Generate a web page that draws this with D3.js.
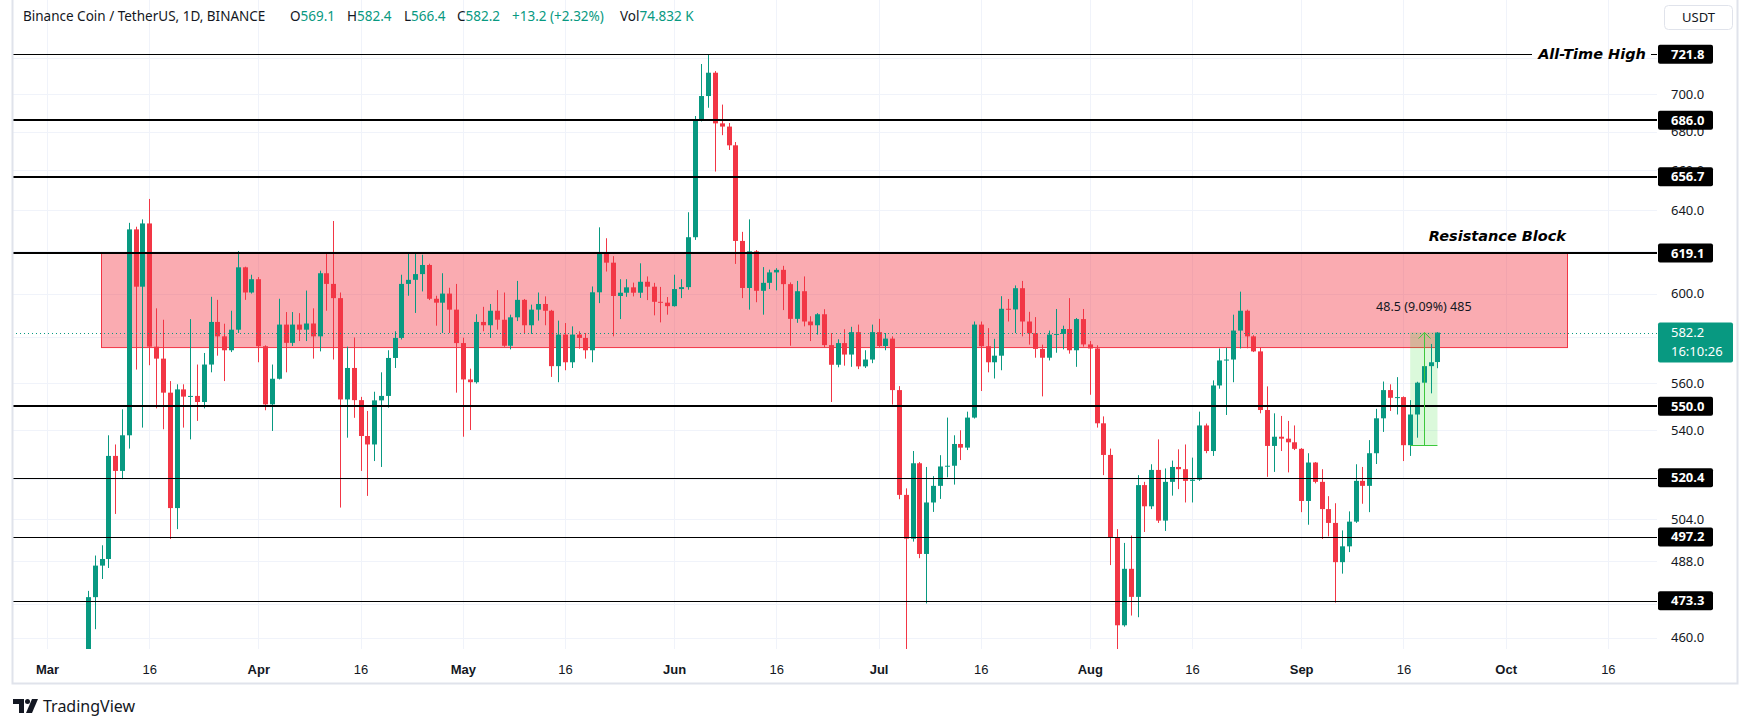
<!DOCTYPE html>
<html><head><meta charset="utf-8">
<script src="https://cdn.jsdelivr.net/npm/d3@7"></script>
<style>
html,body{margin:0;padding:0;background:#fff;}
svg{display:block;font-family:"Noto Sans","Open Sans",sans-serif;}
</style></head><body>
<svg id="chart" width="1754" height="727"></svg>
<script>
// ---------------- DATA ----------------
const startDate = "2024-03-07"; // first visible daily candle, consecutive days follow
const openVals = [
452,474.6,486.3,488.8,529.3,523.2,537.8,630.5,603.2,633.4,575.9,570.6,555.8,508.4,557.2,554.1,554.4,551.8,568.0,587.0,580.5,574.3,583.5,612.3,600.5,
606.7,576.1,550.8,561.8,585.8,577.6,585.8,583.5,586.3,580.5,609.5,604.5,597.9,552.9,566.5,552.6,537.5,534.0,552.5,554.4,570.9,579.8,604.5,606.4,609.1,613.4,597.6,595.8,600.0,592.6,
577.5,561.5,560.3,587.0,585.5,592.1,588.0,576.3,589.1,597.1,585.5,592.6,595.2,592.1,567.3,581.3,569.0,581.3,579.8,574.3,600.6,619.0,614.5,598.9,600.4,602.9,600.4,605.5,603.2,596.2,595.8,
594.2,602.1,603.0,626.7,686.1,698.9,711.6,684.3,682.6,672.8,624.9,602.6,619.9,601.3,605.0,609.9,611.1,604.4,588.4,601.1,587.2,585.5,590.5,576.6,567.9,577.5,572.4,582.4,567.2,570.2,
582.4,576.2,579.5,556.9,513.6,496.5,526.3,490.7,510.6,517.2,525.0,525.3,534.2,532.7,545.2,585.8,576.1,569.0,571.9,593.0,592.7,602.5,587.2,581.9,574.9,571.0,581.3,581.6,583.8,574.3,588.3,
576.9,575.1,542.8,529.7,496.8,464.4,485.1,474.7,517.5,509.1,523.6,503.5,518.8,524.8,523.9,519.2,519.7,541.9,531.3,558.9,569.8,570.2,583.1,592.1,580.5,573.8,548.4,533.4,537.2,536.4,534.9,
532.2,511.2,526.6,518.8,508.0,502.6,487.6,493.6,503.1,519.2,517.2,530.4,544.9,556.9,553.6,553.9,533.7,546.5,560.1,567.3,569.1];
const highVals = [
476.9,490.1,494.0,537.8,534.0,548.7,633.7,631.8,635.4,645.5,593.2,588.0,560.8,559.4,559.4,588.3,568.0,573.1,598.5,597.1,586.2,592.1,620.0,612.6,608.8,
607.7,576.5,568.0,597.6,591.5,591.5,591.0,601.4,593.2,610.7,618.7,634.6,600.5,575.9,580.0,554.0,548.0,556.2,564.6,574.3,582.8,608.8,619.3,619.0,618.3,614.0,599.0,609.5,602.7,604.5,
579.9,566.2,590.5,593.9,595.2,601.6,600.5,590.3,605.9,597.5,594.9,600.5,598.7,592.5,587.6,586.5,585.0,582.8,582.0,603.3,631.5,626.2,617.6,606.7,606.7,605.1,614.2,608.0,605.0,603.1,598.4,
608.8,606.7,638.9,688.2,716.4,721.8,712.5,694.3,684.5,674.5,629.3,635.4,620.5,612.4,611.2,611.9,613.0,605.2,605.9,608.0,589.6,591.0,592.8,582.0,579.2,583.7,584.8,585.8,574.3,585.8,
588.4,582.0,580.5,558.6,516.2,531.3,526.8,524.8,521.1,529.6,545.2,537.8,539.9,547.7,587.2,587.2,584.2,579.4,598.8,597.5,603.8,605.9,591.6,589.2,576.8,583.1,592.9,585.3,597.9,588.8,592.9,
578.4,576.5,545.7,532.3,500.2,494.9,497.7,521.5,518.8,525.9,536.1,524.2,527.4,532.0,534.0,528.6,547.7,542.7,561.1,575.1,575.4,590.3,600.9,592.6,581.0,575.4,558.5,547.0,545.9,543.8,541.9,
532.5,530.4,526.8,523.9,513.1,510.3,499.7,507.1,525.9,524.8,535.8,548.9,560.6,559.4,562.5,554.2,552.6,560.5,575.8,577.1,582.4];
const lowVals = [
447,463.0,481.3,485.4,506.1,519.9,532.3,565.8,541.0,567.7,549.1,540.3,496.4,500.2,541.0,536.1,543.8,549.1,564.6,571.9,560.8,573.5,582.0,597.1,600.0,
569.0,548.3,539.6,561.5,564.6,576.2,578.4,578.4,570.6,573.8,592.1,570.2,508.6,536.8,545.1,523.2,513.2,527.2,524.8,549.4,566.5,579.1,599.0,591.1,601.0,597.0,585.3,582.0,582.0,555.8,
537.2,540.0,559.7,582.8,579.8,583.5,575.8,574.7,587.4,581.9,581.6,587.6,585.5,562.6,560.3,565.5,566.5,575.0,570.6,569.0,595.6,610.3,580.5,588.3,598.5,598.7,598.0,597.0,590.0,586.8,590.3,
594.0,597.9,601.8,625.4,685.3,692.6,659.3,678.1,670.4,613.9,597.9,592.6,596.0,590.3,602.1,601.5,592.4,576.3,586.6,585.0,578.4,581.3,575.5,551.8,566.8,567.5,567.0,566.0,566.5,568.6,
575.5,574.3,550.7,511.9,452.0,495.4,489.1,472.3,506.9,512.0,520.6,517.7,527.6,531.7,544.8,556.5,564.6,561.9,565.5,587.2,582.0,580.5,576.8,571.0,554.2,569.8,573.2,574.7,572.8,567.0,575.9,
554.9,541.0,521.5,486.5,452.0,463.9,467.9,467.3,499.1,508.0,502.6,499.5,513.3,515.9,510.6,510.6,519.2,530.4,529.3,557.5,546.3,560.3,575.1,575.2,573.5,547.0,520.8,522.8,531.3,522.6,531.7,
506.8,501.9,518.2,496.4,497.4,472.6,483.3,491.4,502.6,510.1,506.8,526.0,539.2,548.0,546.5,527.2,529.3,536.8,555.5,555.5,566.4];
const closeVals = [
474.6,486.3,488.8,529.3,523.2,537.8,630.5,603.2,633.4,575.9,570.6,555.8,508.4,557.2,554.1,554.4,551.8,568.0,587.0,580.5,574.3,583.5,612.3,600.5,606.7,
576.1,550.8,561.8,585.8,577.6,585.8,583.5,586.3,580.5,609.5,604.5,597.9,552.9,566.5,552.6,537.5,534.0,552.5,554.4,570.9,579.8,604.5,606.4,609.1,613.4,597.6,595.8,600.0,592.6,577.5,
561.5,560.3,587.0,585.5,592.1,588.0,576.3,589.1,597.1,585.5,592.6,595.2,592.1,567.3,581.3,569.0,581.3,579.8,574.3,600.6,619.0,614.5,598.9,600.4,602.9,600.4,605.5,603.2,596.2,595.8,594.2,
602.1,603.0,626.7,686.1,698.9,711.6,684.3,682.6,672.8,624.9,602.6,619.9,601.3,605.0,609.9,611.1,604.4,588.4,601.1,587.2,585.5,590.5,576.6,567.9,577.5,572.4,582.4,567.2,570.2,582.4,
576.2,579.5,556.9,513.6,496.5,526.3,490.7,510.6,517.2,525.0,525.3,534.2,532.7,545.2,585.8,576.1,569.0,571.9,593.0,592.7,602.5,587.2,581.9,574.9,571.0,581.3,581.6,583.8,574.3,588.3,576.9,
575.1,542.8,529.7,496.8,464.4,485.1,474.7,517.5,509.1,523.6,503.5,518.8,524.8,523.9,519.2,519.7,541.9,531.3,558.9,569.8,570.2,583.1,592.1,580.5,573.8,548.4,533.4,537.2,536.4,534.9,532.2,
511.2,526.6,518.8,508.0,502.6,487.6,493.6,503.1,519.2,517.2,530.4,544.9,556.9,553.6,553.9,533.7,546.5,560.1,567.3,569.0,582.2];

const priceTicks = [720,700,680,660,640,620,600,580,560,540,520,504,488,472,460];
const priceTickLabels = [700,680,660,640,600,560,540,504,488,460]; // ticks not fully hidden by level tags
const levelPrices = [721.8,686.0,656.7,619.1,550.0,520.4,497.2,473.3];
const heavyLevels = [686.0,656.7,619.1,550.0];
const zoneRange = [575.5, 619.1];
const zoneDates = ["2024-03-09","2024-10-10"];
const lastPrice = 582.2;
const countdown = "16:10:26";
const measureRange = [533.7, 582.2];
const measureDates = ["2024-09-17","2024-09-21"];
const measureLabel = "48.5 (9.09%) 485";
const headerTitle = "Binance Coin / TetherUS, 1D, BINANCE";
const headerOHLC = [["O","569.1"],["H","582.4"],["L","566.4"],["C","582.2"]];
const headerChange = "+13.2 (+2.32%)";
const headerVol = "74.832 K";

// ---------------- LAYOUT ----------------
const plot = {left: 12, right: 1657, top: 0, bottom: 649};
const UP = "#089981", DOWN = "#f23645";
const parse = d3.utcParse("%Y-%m-%d");
const svg = d3.select("#chart");

const x = d3.scaleUtc()
  .domain([Date.UTC(2024,2,1), Date.UTC(2024,9,16)])
  .range([47, 47 + 6.816*229]);
const y = d3.scaleLog().domain([460,700]).range([637.6,94]);

const start = parse(startDate);
const candles = openVals.map((o,i)=>({
  date: d3.utcDay.offset(start, i), o, h: highVals[i], l: lowVals[i], c: closeVals[i]
}));

svg.append("defs").append("clipPath").attr("id","plotclip")
  .append("rect").attr("x",plot.left).attr("y",plot.top)
  .attr("width",plot.right-plot.left).attr("height",plot.bottom-plot.top);

const gPlot = svg.append("g").attr("clip-path","url(#plotclip)");

// grid
const timeTicks = [];
for (let m=2; m<=9; m++){ timeTicks.push(new Date(Date.UTC(2024,m,1))); timeTicks.push(new Date(Date.UTC(2024,m,16))); }
gPlot.append("g").selectAll("line").data(timeTicks).join("line")
  .attr("x1",d=>Math.round(x(d))+0.5).attr("x2",d=>Math.round(x(d))+0.5)
  .attr("y1",plot.top).attr("y2",plot.bottom)
  .attr("stroke","#f0f3fa").attr("stroke-width",1);
gPlot.append("g").selectAll("line").data(priceTicks).join("line")
  .attr("x1",plot.left).attr("x2",plot.right)
  .attr("y1",d=>Math.round(y(d))+0.5).attr("y2",d=>Math.round(y(d))+0.5)
  .attr("stroke","#f0f3fa").attr("stroke-width",1);

// resistance zone
const zx0 = x(parse(zoneDates[0])) - 0.5, zx1 = x(parse(zoneDates[1]));
gPlot.append("rect")
  .attr("x",Math.round(zx0)+0.5).attr("y",y(zoneRange[1]))
  .attr("width",Math.round(zx1-zx0)).attr("height",y(zoneRange[0])-y(zoneRange[1]))
  .attr("fill","rgba(242,54,69,0.42)").attr("stroke","#f23645").attr("stroke-width",1);

// measurement fill
const mx0 = x(parse(measureDates[0])), mx1 = x(parse(measureDates[1]));
gPlot.append("rect")
  .attr("x",mx0).attr("y",y(measureRange[1]))
  .attr("width",mx1-mx0).attr("height",y(measureRange[0])-y(measureRange[1]))
  .attr("fill","rgba(40,220,40,0.17)");

// candles
const bw = 5;
const gC = gPlot.append("g");
gC.selectAll("line").data(candles).join("line")
  .attr("x1",d=>Math.round(x(d.date))+0.5).attr("x2",d=>Math.round(x(d.date))+0.5)
  .attr("y1",d=>y(d.h)).attr("y2",d=>y(d.l))
  .attr("stroke",d=>d.c>=d.o?UP:DOWN).attr("stroke-width",1);
gC.selectAll("rect").data(candles).join("rect")
  .attr("x",d=>Math.round(x(d.date))-2)
  .attr("y",d=>y(Math.max(d.o,d.c)))
  .attr("width",bw)
  .attr("height",d=>Math.max(1, Math.abs(y(d.o)-y(d.c))))
  .attr("fill",d=>d.c>=d.o?UP:DOWN);

// level lines
const gL = svg.append("g");
levelPrices.forEach(p=>{
  const heavy = heavyLevels.includes(p);
  const yy = Math.round(y(p)) + (heavy?0:0.5);
  const sw = heavy?2:1;
  if (p === 721.8){
    gL.append("line").attr("x1",plot.left).attr("x2",1532).attr("y1",yy).attr("y2",yy).attr("stroke","#000").attr("stroke-width",sw);
    gL.append("line").attr("x1",1651).attr("x2",plot.right).attr("y1",yy).attr("y2",yy).attr("stroke","#000").attr("stroke-width",sw);
  } else {
    gL.append("line").attr("x1",plot.left).attr("x2",plot.right).attr("y1",yy).attr("y2",yy).attr("stroke","#000").attr("stroke-width",sw);
  }
});

// last price dotted line
const ly = Math.round(y(lastPrice))+0.5;
svg.append("line").attr("x1",plot.left).attr("x2",plot.right).attr("y1",ly).attr("y2",ly)
  .attr("stroke",UP).attr("stroke-width",1).attr("stroke-dasharray","1,3");

// measurement lines
const mg = svg.append("g").attr("stroke","#3cc83c").attr("stroke-width",1).attr("fill","none");
const mcx = Math.round((mx0+mx1)/2)+0.5;
const myTop = y(measureRange[1]), myBot = Math.round(y(measureRange[0]))+0.5;
mg.append("line").attr("x1",mx0).attr("x2",mx1).attr("y1",myBot).attr("y2",myBot);
mg.append("line").attr("x1",mcx).attr("x2",mcx).attr("y1",myBot).attr("y2",myTop);
mg.append("path").attr("d",`M${mcx-6},${myTop+6} L${mcx},${myTop} L${mcx+6},${myTop+6}`);
svg.append("text").attr("x",(mx0+mx1)/2).attr("y",myTop-22).attr("text-anchor","middle")
  .attr("font-size",12.5).attr("fill","#131722").text(measureLabel);

// annotations
svg.append("text").attr("x",1592).attr("y",y(721.8)).attr("dy","0.35em").attr("text-anchor","middle")
  .attr("font-family","DejaVu Sans").attr("font-weight","bold").attr("font-style","italic")
  .attr("font-size",14.5).attr("fill","#000").text("All-Time High");
svg.append("text").attr("x",Math.round(zx1)-1).attr("y",y(zoneRange[1])-12).attr("text-anchor","end")
  .attr("font-family","DejaVu Sans").attr("font-weight","bold").attr("font-style","italic")
  .attr("font-size",14.5).attr("fill","#000").text("Resistance Block");

// price axis
const yAxis = d3.axisRight(y).tickValues(priceTickLabels).tickFormat(d3.format(".1f")).tickSize(0).tickPadding(0);
const gy = svg.append("g").attr("transform","translate(1671,0)").call(yAxis);
gy.select(".domain").remove();
gy.selectAll("text").attr("font-size",13).attr("fill","#131722").attr("font-family","Noto Sans");

// level label boxes
levelPrices.forEach(p=>{
  const yy = y(p);
  svg.append("rect").attr("x",1658).attr("y",yy-9.5).attr("width",55).attr("height",19).attr("rx",2).attr("fill","#000");
  svg.append("text").attr("x",1671).attr("y",yy).attr("dy","0.35em").attr("font-size",13).attr("font-weight","bold")
    .attr("fill","#fff").text(d3.format(".1f")(p));
});
// last price box
svg.append("rect").attr("x",1658).attr("y",y(lastPrice)-10).attr("width",75).attr("height",40).attr("rx",2).attr("fill",UP);
svg.append("text").attr("x",1671).attr("y",y(lastPrice)).attr("dy","0.35em").attr("font-size",13).attr("fill","#fff").text(d3.format(".1f")(lastPrice));
svg.append("text").attr("x",1671).attr("y",y(lastPrice)+19).attr("dy","0.35em").attr("font-size",13).attr("fill","#fff").text(countdown);

// USDT button
svg.append("rect").attr("x",1664.5).attr("y",5.5).attr("width",68).attr("height",24).attr("rx",4)
  .attr("fill","#fff").attr("stroke","#e0e3eb");
svg.append("text").attr("x",1698.5).attr("y",17.5).attr("dy","0.35em").attr("text-anchor","middle")
  .attr("font-size",13).attr("fill","#131722").text("USDT");

// time axis
const xAxis = d3.axisBottom(x).tickValues(timeTicks)
  .tickFormat(d=>d.getUTCDate()===1 ? d3.utcFormat("%b")(d) : "16").tickSize(0).tickPadding(0);
const gx = svg.append("g").attr("transform","translate(0,669)").call(xAxis);
gx.select(".domain").remove();
gx.selectAll("text").attr("dy","0.35em").attr("font-size",13).attr("fill","#131722")
  .attr("font-weight",d=>d.getUTCDate()===1?"bold":"normal");

// frame
svg.append("path").attr("d",`M12.5,0 V683.5 H1737.5 V0`).attr("fill","none").attr("stroke","#e0e3eb").attr("stroke-width",2);

// header legend
const hdr = svg.append("text").attr("x",23).attr("y",16).attr("dy","0.35em").attr("font-size",13.5).attr("fill","#131722");
hdr.append("tspan").text(headerTitle);
const segX = [290,347,404,457];
headerOHLC.forEach((kv,i)=>{
  hdr.append("tspan").attr("x",segX[i]).text(kv[0]);
  hdr.append("tspan").attr("fill",UP).text(kv[1]);
});
hdr.append("tspan").attr("x",512).attr("fill",UP).text(headerChange);
hdr.append("tspan").attr("x",620).text("Vol");
hdr.append("tspan").attr("fill",UP).text(headerVol);

// TradingView logo
const lg = svg.append("g").attr("fill","#131722");
lg.append("path").attr("d","M13,699 H24 V713 H19 V704 H13 Z");
lg.append("circle").attr("cx",27.5).attr("cy",701.5).attr("r",2.5);
lg.append("path").attr("d","M32,699 H38 L32,713 H26 Z");
svg.append("text").attr("x",43).attr("y",706).attr("dy","0.35em").attr("font-size",16).attr("fill","#131722").text("TradingView");
</script>
</body></html>
